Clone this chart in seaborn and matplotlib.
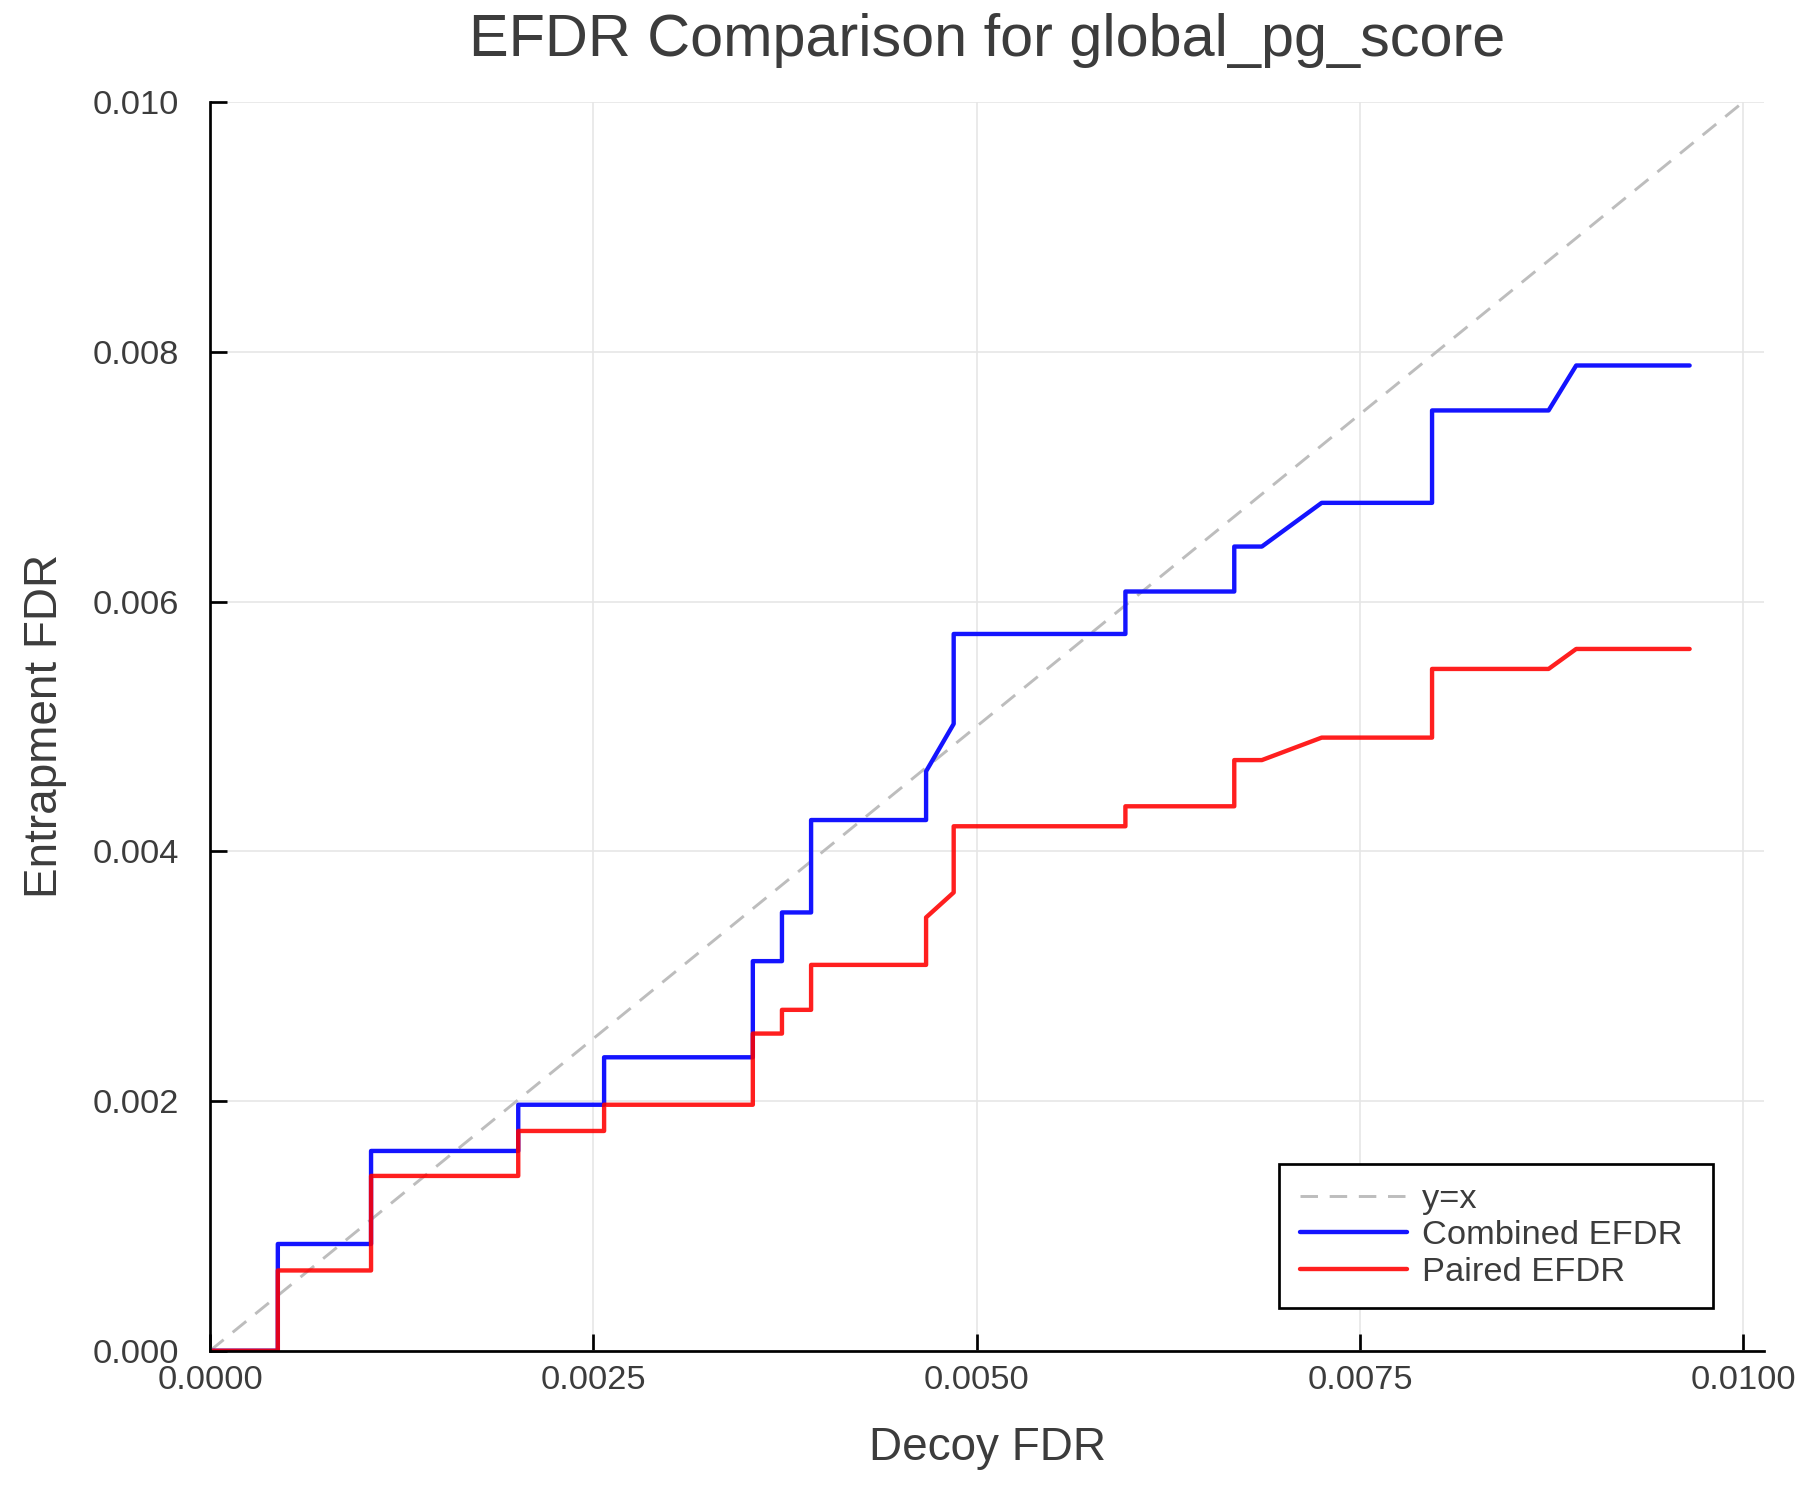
import matplotlib
matplotlib.use("Agg")
import matplotlib.pyplot as plt
import seaborn as sns
import pandas as pd
import numpy as np

title = "EFDR Comparison for global_pg_score"
xlabel = "Decoy FDR"
ylabel = "Entrapment FDR"

decoy_fdr = [0, 0.000442, 0.000442, 0.00105, 0.00105, 0.00201, 0.00201, 0.00257, 0.00257,
             0.00354, 0.00354, 0.00373, 0.00373, 0.00392, 0.00392, 0.00467, 0.00467,
             0.00485, 0.00485, 0.00597, 0.00597, 0.00668, 0.00668, 0.00686, 0.00725,
             0.00797, 0.00797, 0.00873, 0.00891, 0.00965]
combined_efdr = [0, 0, 0.000855, 0.000855, 0.0016, 0.0016, 0.00197, 0.00197, 0.00235,
                 0.00235, 0.00312, 0.00312, 0.00351, 0.00351, 0.00425, 0.00425, 0.00464,
                 0.00502, 0.00574, 0.00574, 0.00608, 0.00608, 0.00644, 0.00644, 0.00679,
                 0.00679, 0.00753, 0.00753, 0.00789, 0.00789]
paired_efdr = [0, 0, 0.000643, 0.000643, 0.0014, 0.0014, 0.00176, 0.00176, 0.00197,
               0.00197, 0.00254, 0.00254, 0.00273, 0.00273, 0.00309, 0.00309, 0.00347,
               0.00367, 0.0042, 0.0042, 0.00436, 0.00436, 0.00473, 0.00473, 0.00491,
               0.00491, 0.00546, 0.00546, 0.00562, 0.00562]
diag = [0.0, 0.01]

xticks = [0.0, 0.0025, 0.005, 0.0075, 0.01]
xticklabels = ["0.0000", "0.0025", "0.0050", "0.0075", "0.0100"]
yticks = [0.0, 0.002, 0.004, 0.006, 0.008, 0.010]
yticklabels = ["0.000", "0.002", "0.004", "0.006", "0.008", "0.010"]

sns.set_theme(style="white")
plt.rcParams['font.family'] = ['Liberation Sans', 'DejaVu Sans']
txt = "#3c3c3c"

fig = plt.figure(figsize=(12, 10), dpi=150)
ax = fig.add_axes([0.1167, 0.0995, 0.8633, 0.8325])

sns.lineplot(x=diag, y=diag, ax=ax, color="#bdbdbd", linestyle=(0, (6, 4)),
             linewidth=1.4, label="y=x", sort=False, estimator=None)
sns.lineplot(x=decoy_fdr, y=combined_efdr, ax=ax, color="#1414ff", linewidth=2.1,
             label="Combined EFDR", sort=False, estimator=None)
sns.lineplot(x=decoy_fdr, y=paired_efdr, ax=ax, color="#ff0000", alpha=0.88, linewidth=2.1,
             label="Paired EFDR", sort=False, estimator=None)

ax.set_xlim(0, 0.010135)
ax.set_ylim(0, 0.010)
ax.set_xticks(xticks)
ax.set_xticklabels(xticklabels)
ax.set_yticks(yticks)
ax.set_yticklabels(yticklabels)
ax.grid(True, color="#e6e6e6", linewidth=0.8)
ax.set_axisbelow(True)
for s in ["top", "right"]:
    ax.spines[s].set_visible(False)
for s in ["left", "bottom"]:
    ax.spines[s].set_color("black")
    ax.spines[s].set_linewidth(1.3)
ax.tick_params(axis="both", direction="in", length=8, width=1.3, color="black",
               labelsize=16.5, labelcolor=txt, bottom=True, left=True)
ax.tick_params(axis="y", pad=15)
ax.tick_params(axis="x", pad=7)

ax.set_title(title, fontsize=28.5, color=txt, pad=22)
ax.set_xlabel(xlabel, fontsize=22, color=txt, labelpad=14)
ax.set_ylabel(ylabel, fontsize=22, color=txt, labelpad=12)

leg = ax.legend(loc="lower right", bbox_to_anchor=(0.967, 0.034), fontsize=16.5,
                frameon=True, fancybox=False, edgecolor="black", framealpha=1,
                handlelength=3.1, borderpad=0.6, labelspacing=0.15,
                handletextpad=0.45, borderaxespad=0)
leg.get_frame().set_linewidth(1.3)
for t in leg.get_texts():
    t.set_color(txt)
    t.set_text(t.get_text() + " ")

fig.savefig("out.png", dpi=150)
